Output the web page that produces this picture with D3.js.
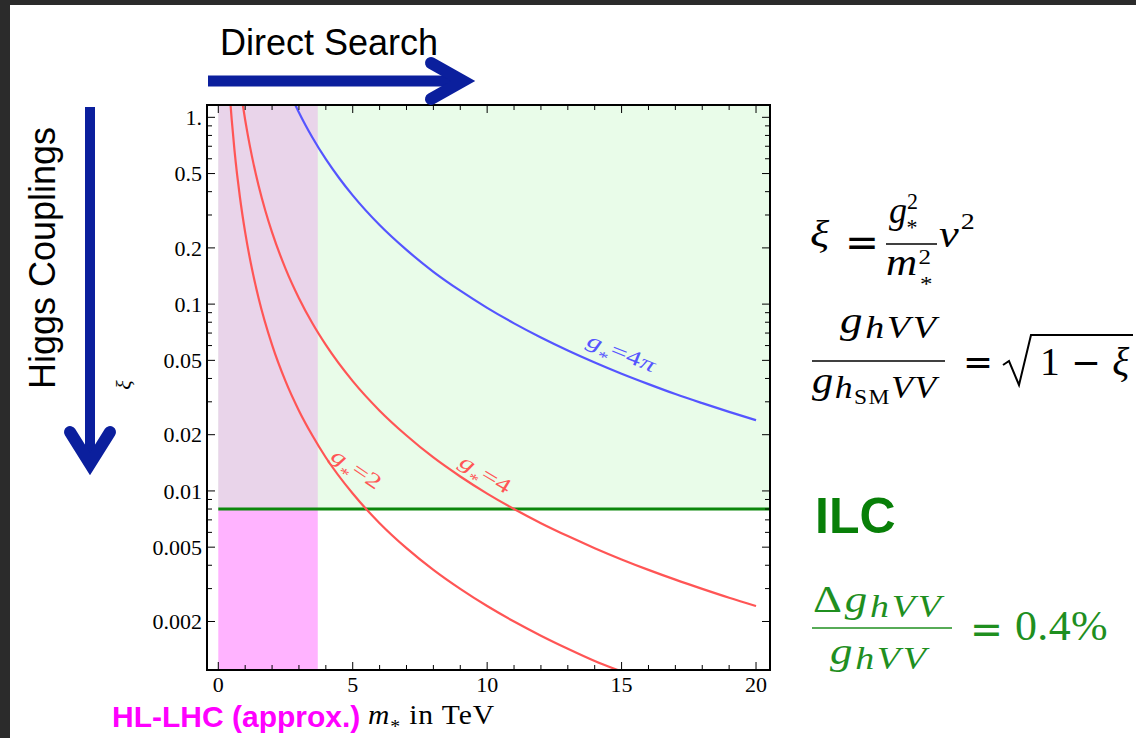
<!DOCTYPE html>
<html>
<head>
<meta charset="utf-8">
<script src="https://cdn.jsdelivr.net/npm/d3@7"></script>
<style>
  body { margin: 0; background: #2b2b2b; overflow: hidden; }
</style>
</head>
<body>
<svg id="chart" width="1136" height="738"></svg>
<script>
// ---- data ----
const xMajor = [0, 5, 10, 15, 20];
const xMinor = [1, 2, 3, 4, 6, 7, 8, 9, 11, 12, 13, 14, 16, 17, 18, 19];
const yMajor = [1, 0.5, 0.2, 0.1, 0.05, 0.02, 0.01, 0.005, 0.002];
const yLabels = ["1.", "0.5", "0.2", "0.1", "0.05", "0.02", "0.01", "0.005", "0.002"];
const yMinor = [0.9, 0.8, 0.7, 0.6, 0.4, 0.3, 0.09, 0.08, 0.07, 0.06, 0.04, 0.03,
                0.009, 0.008, 0.007, 0.006, 0.004, 0.003];

const hlLhcReach = 3.7;   // m* in TeV
const ilcXi = 0.008;      // ILC sensitivity on xi

// [m* (TeV), xi]
const curveG2 = [[0.45, 1.195], [0.5, 0.968], [0.6, 0.672], [0.7, 0.494], [0.8, 0.378], [1, 0.242],
  [1.25, 0.155], [1.5, 0.1076], [2, 0.0605], [2.5, 0.0387], [3, 0.0269], [3.5, 0.0198], [4, 0.0151],
  [5, 0.00968], [6, 0.00672], [7, 0.00494], [8, 0.00378], [9, 0.00299], [10, 0.00242], [11, 0.002],
  [12, 0.00168], [13, 0.00143], [14, 0.00123], [15, 0.00108]];
const curveG4 = [[0.9, 1.195], [1, 0.968], [1.1, 0.8], [1.25, 0.62], [1.5, 0.43], [1.75, 0.316],
  [2, 0.242], [2.5, 0.155], [3, 0.1076], [3.5, 0.079], [4, 0.0605], [5, 0.0387], [6, 0.0269],
  [7, 0.0198], [8, 0.0151], [9, 0.01195], [10, 0.00968], [11, 0.008], [12, 0.00672], [13, 0.00573],
  [14, 0.00494], [15, 0.0043], [16, 0.00378], [17, 0.00335], [18, 0.00299], [19, 0.00268], [20, 0.00242]];
const curveG4pi = [[2.82, 1.2], [3, 1.061], [3.25, 0.904], [3.5, 0.78], [4, 0.597], [4.5, 0.472],
  [5, 0.382], [6, 0.265], [7, 0.195], [8, 0.149], [9, 0.118], [10, 0.0955], [11, 0.0789],
  [12, 0.0663], [13, 0.0565], [14, 0.0487], [15, 0.0424], [16, 0.0373], [17, 0.033], [18, 0.0295],
  [19, 0.0265], [20, 0.0239]];

const curveLabels = [
  { val: "2", m: 5.15, xi: 0.0132, angle: 34, len: 56, color: "#ff5555" },
  { val: "4", m: 9.95, xi: 0.0124, angle: 31, len: 56, color: "#ff5555" },
  { val: "4π", m: 15.0, xi: 0.0553, angle: 22, len: 72, color: "#5555ff" }
];

// ---- layout ----
const W = 1136, H = 738;
const plot = { left: 207, right: 770, top: 105, bottom: 670 };
const serif = "'Liberation Serif', 'Times New Roman', serif";
const sans = "'Liberation Sans', Arial, Helvetica, sans-serif";
const opFont = "'DejaVu Sans', sans-serif";
const arrowBlue = "#0b1f9d";

const svg = d3.select("#chart");
svg.append("rect").attr("width", W).attr("height", H).attr("fill", "#2b2b2b");
svg.append("rect").attr("x", 10).attr("y", 5).attr("width", W - 10).attr("height", H - 5).attr("fill", "#fff");

const x = d3.scaleLinear().domain([-0.42, 20.52]).range([plot.left, plot.right]);
const y = d3.scaleLog().domain([0.0011, 1.164]).range([plot.bottom, plot.top]);

// shaded regions
svg.append("rect")
  .attr("x", x(0)).attr("y", plot.top)
  .attr("width", plot.right - x(0)).attr("height", y(ilcXi) - plot.top)
  .attr("fill", "#e9fce9");
svg.append("rect")
  .attr("x", x(0)).attr("y", plot.top)
  .attr("width", x(hlLhcReach) - x(0)).attr("height", y(ilcXi) - plot.top)
  .attr("fill", "#e9d4ea");
svg.append("rect")
  .attr("x", x(0)).attr("y", y(ilcXi))
  .attr("width", x(hlLhcReach) - x(0)).attr("height", plot.bottom - y(ilcXi))
  .attr("fill", "#ffb3ff");

svg.append("clipPath").attr("id", "plotclip")
  .append("rect").attr("x", plot.left).attr("y", plot.top)
  .attr("width", plot.right - plot.left).attr("height", plot.bottom - plot.top);

const g = svg.append("g").attr("clip-path", "url(#plotclip)");

g.append("line")
  .attr("x1", x(0)).attr("x2", plot.right)
  .attr("y1", y(ilcXi)).attr("y2", y(ilcXi))
  .attr("stroke", "#0b870b").attr("stroke-width", 3);

const line = d3.line()
  .x(d => x(d[0]))
  .y(d => y(d[1]))
  .curve(d3.curveMonotoneX);

[[curveG2, "#ff5555"], [curveG4, "#ff5555"], [curveG4pi, "#5555ff"]].forEach(([data, col]) => {
  g.append("path").datum(data)
    .attr("fill", "none").attr("stroke", col).attr("stroke-width", 2.2)
    .attr("d", line);
});

// curve labels
curveLabels.forEach(d => {
  const lg = svg.append("g")
    .attr("transform", `translate(${x(d.m)},${y(d.xi)}) rotate(${d.angle})`);
  const t = lg.append("text")
    .attr("text-anchor", "middle")
    .attr("dy", "0.35em")
    .attr("fill", d.color)
    .style("font-family", serif)
    .style("font-size", "21px");
  t.append("tspan").style("font-style", "italic").text("g");
  t.append("tspan").attr("dy", 9).style("font-size", "15px").text("*");
  t.append("tspan").attr("dy", -9).text("=");
  if (d.val === "4π") {
    t.append("tspan").text("4");
    t.append("tspan").style("font-style", "italic").text("π");
  } else {
    t.append("tspan").text(d.val);
  }
  const w = t.node().getComputedTextLength();
  t.attr("transform", `scale(${d.len / w},1)`);
});

// frame + ticks
const ticks = svg.append("g").attr("stroke", "#000").attr("stroke-width", 1);
yMajor.forEach(v => {
  ticks.append("line").attr("x1", plot.left).attr("x2", plot.left + 8).attr("y1", y(v)).attr("y2", y(v));
  ticks.append("line").attr("x1", plot.right).attr("x2", plot.right - 8).attr("y1", y(v)).attr("y2", y(v));
});
yMinor.forEach(v => {
  ticks.append("line").attr("x1", plot.left).attr("x2", plot.left + 5).attr("y1", y(v)).attr("y2", y(v));
  ticks.append("line").attr("x1", plot.right).attr("x2", plot.right - 5).attr("y1", y(v)).attr("y2", y(v));
});
xMajor.forEach(v => {
  ticks.append("line").attr("x1", x(v)).attr("x2", x(v)).attr("y1", plot.bottom).attr("y2", plot.bottom - 8);
  ticks.append("line").attr("x1", x(v)).attr("x2", x(v)).attr("y1", plot.top).attr("y2", plot.top + 8);
});
xMinor.forEach(v => {
  ticks.append("line").attr("x1", x(v)).attr("x2", x(v)).attr("y1", plot.bottom).attr("y2", plot.bottom - 5);
  ticks.append("line").attr("x1", x(v)).attr("x2", x(v)).attr("y1", plot.top).attr("y2", plot.top + 5);
});
svg.append("rect")
  .attr("x", plot.left).attr("y", plot.top)
  .attr("width", plot.right - plot.left).attr("height", plot.bottom - plot.top)
  .attr("fill", "none").attr("stroke", "#000").attr("stroke-width", 2);

// tick labels
svg.append("g").selectAll("text").data(yMajor).join("text")
  .attr("x", plot.left - 5).attr("y", d => y(d)).attr("dy", "0.35em")
  .attr("text-anchor", "end")
  .style("font-family", serif).style("font-size", "22px")
  .text((d, i) => yLabels[i]);
svg.append("g").selectAll("text").data(xMajor).join("text")
  .attr("x", d => x(d)).attr("y", plot.bottom + 22)
  .attr("text-anchor", "middle")
  .style("font-family", serif).style("font-size", "22px")
  .text(d => d);

// axis labels
svg.append("text")
  .attr("transform", `translate(131,385) rotate(-90)`)
  .attr("text-anchor", "middle")
  .style("font-family", serif).style("font-size", "22px").style("font-style", "italic")
  .text("ξ");

svg.append("text")
  .attr("x", 112).attr("y", 727)
  .attr("fill", "#ff00ff")
  .style("font-family", sans).style("font-size", "30px").style("font-weight", "bold")
  .text("HL-LHC (approx.)");

// ---- formula helper ----
// runs: {t, size, s (baseline shift, +down), i (italic), dx, f (font)}
// box: {x, w} fits the run to the width seen in the picture (a little spacing, then a light stretch)
function mathText(parent, y0, runs, color, box) {
  const t = parent.append("text").attr("x", box.x).attr("y", y0)
    .attr("fill", color).style("font-family", serif);
  let prev = 0;
  runs.forEach(r => {
    const s = r.s || 0;
    const ts = t.append("tspan").attr("dy", s - prev)
      .style("font-size", r.size + "px")
      .style("font-style", r.i ? "italic" : "normal")
      .text(r.t);
    if (r.f) ts.style("font-family", r.f);
    if (r.dx) ts.attr("dx", r.dx);
    prev = s;
  });
  if (box.w) {
    const node = t.node();
    let bb = node.getBBox();
    const n = node.getNumberOfChars();
    const extra = box.w - bb.width;
    if (extra > 0 && n > 1) {
      t.attr("letter-spacing", (extra * 0.4 / n) + "px");
      bb = node.getBBox();
    }
    t.attr("transform", `translate(${box.x},0) scale(${box.w / bb.width},1) translate(${-bb.x},0)`);
  }
  return t;
}
function bar(x1, x2, yy, color) {
  svg.append("line").attr("x1", x1).attr("x2", x2).attr("y1", yy).attr("y2", yy)
    .attr("stroke", color).attr("stroke-width", 1.6);
}

mathText(svg, 724, [{ t: "m", size: 27, i: 1 }, { t: "*", size: 18, s: 9 }, { t: " in TeV", size: 27 }], "#000", { x: 368, w: 127 });

// arrows + titles
svg.append("text")
  .attr("x", 220).attr("y", 55)
  .style("font-family", sans).style("font-size", "36px")
  .text("Direct Search");
svg.append("line")
  .attr("x1", 208).attr("x2", 462).attr("y1", 81).attr("y2", 81)
  .attr("stroke", arrowBlue).attr("stroke-width", 11);
svg.append("path")
  .attr("d", "M431,63 L463,81 L431,99")
  .attr("fill", "none").attr("stroke", arrowBlue).attr("stroke-width", 12)
  .attr("stroke-linecap", "round").attr("stroke-linejoin", "miter");

svg.append("text")
  .attr("transform", "translate(55,258) rotate(-90)")
  .attr("text-anchor", "middle")
  .style("font-family", sans).style("font-size", "36px")
  .text("Higgs Couplings");
svg.append("line")
  .attr("x1", 90).attr("x2", 90).attr("y1", 107).attr("y2", 462)
  .attr("stroke", arrowBlue).attr("stroke-width", 10);
svg.append("path")
  .attr("d", "M70,432 L90,464 L110,432")
  .attr("fill", "none").attr("stroke", arrowBlue).attr("stroke-width", 12)
  .attr("stroke-linecap", "round").attr("stroke-linejoin", "miter");

// xi = g*^2 / m*^2 v^2
mathText(svg, 247, [{ t: "ξ", size: 38, i: 1 }], "#000", { x: 810, w: 20 });
mathText(svg, 256, [{ t: "=", size: 40, f: opFont }], "#000", { x: 845, w: 34 });
mathText(svg, 223, [{ t: "g", size: 38, i: 1 }, { t: "2", size: 23, s: -14 }, { t: "*", size: 23, s: 12, dx: -12 }], "#000", { x: 889, w: 29 });
bar(886, 937, 244, "#000");
mathText(svg, 275, [{ t: "m", size: 38, i: 1 }, { t: "2", size: 22, s: -11 }, { t: "*", size: 22, s: 16, dx: -11 }], "#000", { x: 886, w: 48 });
mathText(svg, 247, [{ t: "v", size: 38, i: 1 }, { t: "2", size: 24, s: -18 }], "#000", { x: 939, w: 38 });

// g_hVV / g_hSM VV = sqrt(1 - xi)
mathText(svg, 333, [{ t: "g", size: 38, i: 1 }, { t: "hVV", size: 32, i: 1, s: 5 }], "#000", { x: 840, w: 100 });
bar(812, 945, 361, "#000");
mathText(svg, 393, [{ t: "g", size: 38, i: 1 }, { t: "h", size: 32, i: 1, s: 5 }, { t: "SM", size: 21, s: 11 }, { t: "VV", size: 32, i: 1, s: 5 }], "#000", { x: 812, w: 128 });
mathText(svg, 374, [{ t: "=", size: 36, f: opFont }], "#000", { x: 963, w: 30 });
svg.append("path")
  .attr("d", "M1003,365 L1009,361 L1019,385 L1031,335 L1133,335")
  .attr("fill", "none").attr("stroke", "#000").attr("stroke-width", 2);
mathText(svg, 375, [{ t: "1", size: 40 }, { t: " − ", size: 36, f: opFont }, { t: "ξ", size: 40, i: 1 }], "#000", { x: 1040, w: 90 });

// ILC
svg.append("text")
  .attr("x", 815).attr("y", 533)
  .attr("fill", "#087f08")
  .style("font-family", sans).style("font-size", "50px").style("font-weight", "bold")
  .text("ILC");

const green = "#1f8f1f";
mathText(svg, 612, [{ t: "Δ", size: 38 }, { t: "g", size: 38, i: 1 }, { t: "hVV", size: 32, i: 1, s: 5 }], green, { x: 813, w: 132 });
bar(812, 952, 628, green);
mathText(svg, 664, [{ t: "g", size: 38, i: 1 }, { t: "hVV", size: 32, i: 1, s: 5 }], green, { x: 830, w: 100 });
mathText(svg, 643, [{ t: "=", size: 40, f: opFont }], green, { x: 970, w: 33 });
mathText(svg, 640, [{ t: "0.4%", size: 43 }], green, { x: 1015, w: 93 });
</script>
</body>
</html>
